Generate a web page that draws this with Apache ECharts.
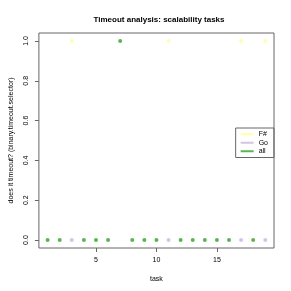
<!DOCTYPE html>
<html><head><meta charset="utf-8">
<script src="https://cdn.jsdelivr.net/npm/echarts@6/dist/echarts.min.js"></script>
<style>html,body{margin:0;padding:0;background:#fff}#c{width:291px;height:291px}</style>
</head><body><div id="c"></div>
<script>
const fsharpTasks = [3, 11, 17, 19];
const fsharpValues = [1, 1, 1, 1];
const goTasks = [3, 11, 17, 19];
const goValues = [0, 0, 0, 0];
const allTasks = [1, 2, 4, 5, 6, 7, 8, 9, 10, 12, 13, 14, 15, 16, 18];
const allValues = [0, 0, 0, 0, 0, 1, 0, 0, 0, 0, 0, 0, 0, 0, 0];
const xTicks = [5, 10, 15];
const yTicks = [0, 0.2, 0.4, 0.6, 0.8, 1.0];

const pair = (xs, ys) => xs.map((x, i) => [x, ys[i]]);
const font = 'Liberation Sans, Arial, sans-serif';
const chart = echarts.init(document.getElementById('c'), null, {renderer: 'canvas'});
chart.setOption({
  animation: false,
  backgroundColor: '#fff',
  title: {text: 'Timeout analysis: scalability tasks', left: 154, textAlign: 'center', top: 11,
    textStyle: {fontSize: 8, fontWeight: 'bold', fontFamily: font, color: '#000'}},
  grid: {left: 34, right: 17, top: 33, bottom: 43, show: true, borderColor: '#666', borderWidth: 1, backgroundColor: 'transparent'},
  xAxis: {type: 'value', min: 0.28, max: 19.72, name: 'task', nameLocation: 'middle', nameGap: 28,
    nameTextStyle: {fontSize: 7, fontFamily: font, color: '#000'},
    axisLine: {show: false, onZero: false}, splitLine: {show: false},
    axisTick: {show: true, inside: false, length: 4, customValues: xTicks, lineStyle: {color: '#666'}},
    axisLabel: {customValues: xTicks, fontSize: 7, fontFamily: font, color: '#000', margin: 9}},
  yAxis: {type: 'value', min: -0.04, max: 1.04, name: 'does it timeout? (binary.timeout.selector)', nameLocation: 'middle', nameGap: 23,
    nameTextStyle: {fontSize: 7, fontFamily: font, color: '#000'},
    axisLine: {show: false, onZero: false}, splitLine: {show: false},
    axisTick: {show: true, inside: false, length: 4, customValues: yTicks, lineStyle: {color: '#666'}},
    axisLabel: {customValues: yTicks, rotate: 90, fontSize: 7, fontFamily: font, color: '#000', margin: 9,
      formatter: v => v.toFixed(1)}},
  legend: {orient: 'vertical', right: 17, top: 128, borderColor: '#666', borderWidth: 1,
    padding: [2, 6, 2, 5], itemGap: 0, itemWidth: 13, itemHeight: 2, icon: 'rect',
    textStyle: {fontSize: 7, fontFamily: font, color: '#000', lineHeight: 8.5, padding: [0, 0, 0, 0]},
    data: ['F#', 'Go', 'all']},
  series: [
    {name: 'F#', type: 'scatter', symbolSize: 4, itemStyle: {color: '#ffff99'}, data: pair(fsharpTasks, fsharpValues)},
    {name: 'Go', type: 'scatter', symbolSize: 4, itemStyle: {color: '#c9b6e0'}, data: pair(goTasks, goValues)},
    {name: 'all', type: 'scatter', symbolSize: 4, itemStyle: {color: '#33a02c'}, data: pair(allTasks, allValues)}
  ]
});
</script></body></html>
